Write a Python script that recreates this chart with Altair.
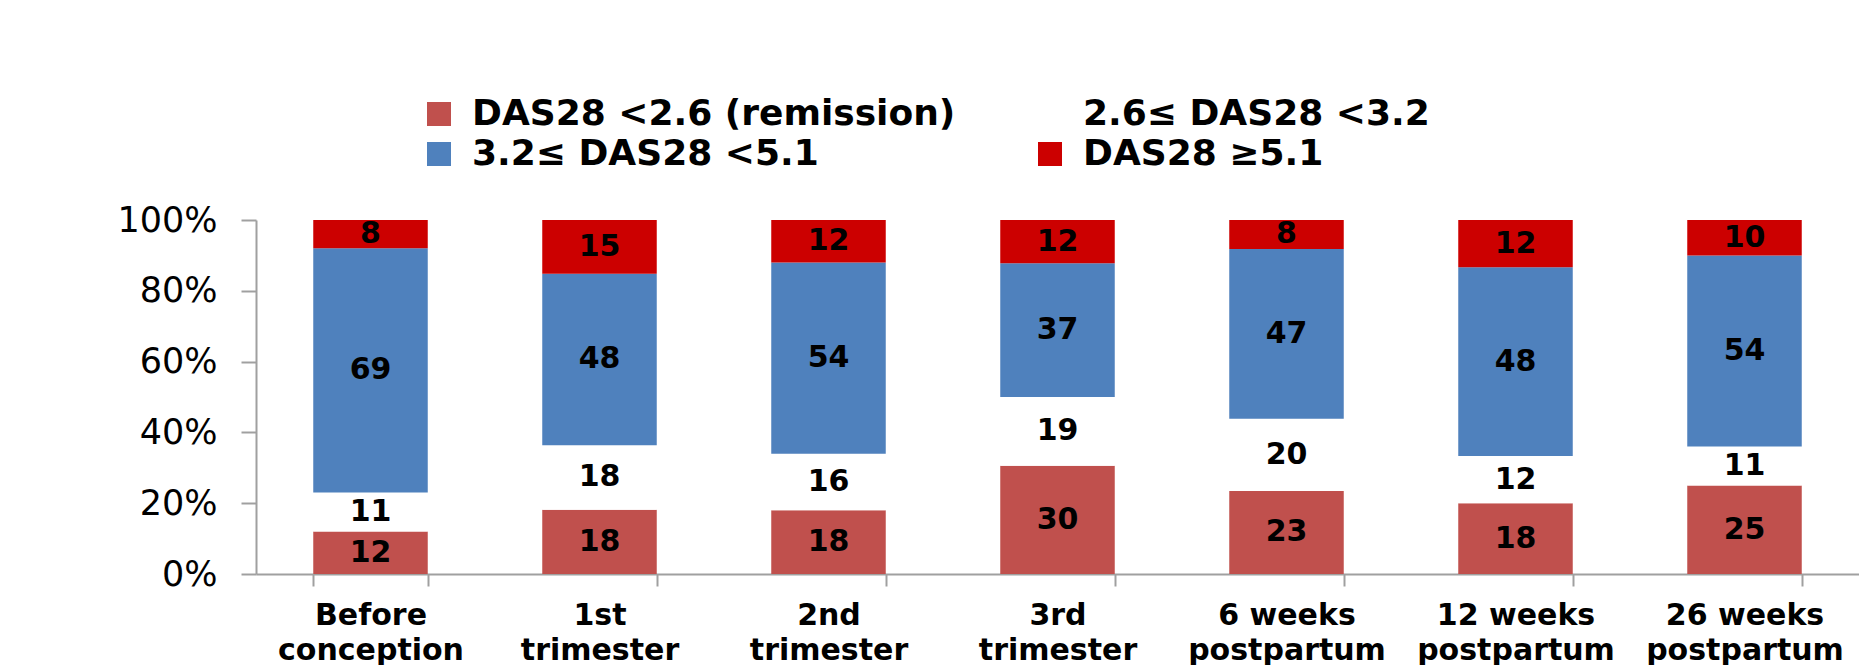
import altair as alt
import pandas as pd

categories = ["Before conception", "1st trimester", "2nd trimester", "3rd trimester",
              "6 weeks postpartum", "12 weeks postpartum", "26 weeks postpartum"]
series = ["DAS28 <2.6 (remission)", "2.6\u2264 DAS28 <3.2", "3.2\u2264 DAS28 <5.1", "DAS28 \u22655.1"]
remission = [12, 18, 18, 30, 23, 18, 25]
low = [11, 18, 16, 19, 20, 12, 11]
moderate = [69, 48, 54, 37, 47, 48, 54]
high = [8, 15, 12, 12, 8, 12, 10]
colors = ["#C0504D", "#FFFFFF", "#4F81BD", "#CC0000"]
y_ticks = [0, 0.2, 0.4, 0.6, 0.8, 1.0]

rows = []
for s_i, (name, vals) in enumerate(zip(series, [remission, low, moderate, high])):
    for c, v in zip(categories, vals):
        rows.append({"category": c, "series": name, "value": v, "order": s_i})
df = pd.DataFrame(rows)

# legend is filled column by column: put the entries in that order
legend_order = [series[0], series[2], series[1], series[3]]
legend_colors = [colors[0], colors[2], colors[1], colors[3]]

FONT = "DejaVu Sans"
GREY = "#A0A0A0"

base = alt.Chart(df).transform_stack(
    stack="value", groupby=["category"], as_=["y0", "y1"], offset="normalize",
    sort=[alt.SortField("order", order="ascending")]
).transform_calculate(mid="(datum.y0 + datum.y1) / 2")

x_enc = alt.X(
    "category:N", sort=categories,
    scale=alt.Scale(paddingInner=0.5, paddingOuter=0.25),
    axis=alt.Axis(
        title=None, labelAngle=0, labelFont=FONT, labelFontSize=30, labelFontWeight="bold",
        labelColor="black", labelLineHeight=35, labelPadding=14, labelOverlap=False,
        labelLimit=1000, labelBaseline="top",
        labelExpr="[slice(datum.label, 0, lastindexof(datum.label, ' ')), slice(datum.label, lastindexof(datum.label, ' ') + 1)]",
        tickBand="extent", tickSize=12, tickColor=GREY, tickWidth=2,
        domainColor=GREY, domainWidth=2,
    ),
)

bars = base.mark_bar().encode(
    x=x_enc,
    y=alt.Y("y0:Q", scale=alt.Scale(domain=[0, 1]),
            axis=alt.Axis(title=None, values=y_ticks, format=".0%", labelFont=FONT,
                          labelFontSize=35, labelColor="black", tickSize=15, tickColor=GREY,
                          tickWidth=2, domainColor=GREY, domainWidth=2, labelPadding=24,
                          grid=False)),
    y2="y1:Q",
    color=alt.Color("series:N", scale=alt.Scale(domain=legend_order, range=legend_colors),
                    legend=alt.Legend(
                        orient="none", legendX=165, legendY=-124, columns=2, title=None,
                        symbolType="square", symbolSize=576, symbolStrokeWidth=0,
                        symbolOpacity=1, labelFont=FONT, labelFontSize=36,
                        labelFontWeight="bold", labelColor="black", columnPadding=76,
                        rowPadding=4, labelOffset=15, padding=0, labelLimit=1000)),
    order=alt.Order("order:Q"),
)

labels = base.mark_text(font=FONT, fontSize=30, fontWeight="bold", color="black",
                        baseline="middle", align="center").encode(
    x=alt.X("category:N", sort=categories),
    y=alt.Y("mid:Q"),
    text="value:Q",
)

chart = alt.layer(bars, labels).properties(
    width=1603, height=354,
    padding={"left": 108, "top": 88, "right": 0, "bottom": 0},
    background="white",
).configure_view(strokeWidth=0)

chart.save("out.html", embed_options={"renderer": "svg", "actions": False})
